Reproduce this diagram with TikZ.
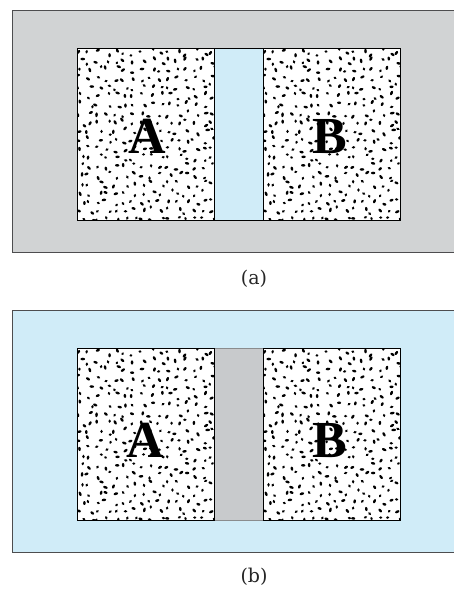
\documentclass[tikz,border=0pt]{standalone}
\usepackage{fontspec}
\setmainfont{Liberation Serif}
\newfontfamily\letterfont{Liberation Serif}
\newfontfamily\lblfont{DejaVu Serif}
\definecolor{panelgray}{HTML}{D1D3D4}
\definecolor{panelblue}{HTML}{D0ECF8}
\definecolor{stripgray}{HTML}{C8CACC}
\definecolor{edgegray}{HTML}{4D4D4F}
\definecolor{stripedge}{HTML}{8A8C8E}
\newcommand{\grainfield}[4]{%
  \begin{scope}
    \clip (#1,#2) rectangle (#3,#4);
    \pgfmathsetseed{1234}
    \foreach \i in {0,...,15}{\foreach \j in {0,...,19}{
      \pgfmathsetmacro{\px}{#1+4+\i*8.8+7*rnd-3.5}
      \pgfmathsetmacro{\py}{#2+4+\j*8.8+7*rnd-3.5}
      \pgfmathsetmacro{\ang}{180*rnd}
      \pgfmathsetmacro{\ra}{1.6+0.8*rnd}
      \fill[black,rotate around={\ang:(\px,\py)}] (\px,\py) ellipse [x radius=\ra pt, y radius=1.3pt];
    }}
  \end{scope}}
\tikzset{
  outerpanel/.style={draw=edgegray, line width=0.8pt},
  grainbox/.style={draw=black, line width=0.7pt},
  letter/.style={anchor=base, font=\letterfont\bfseries\fontsize{52}{52}\selectfont},
  caption/.style={font=\lblfont\fontsize{19}{19}\selectfont, text=black!85},
}
\begin{document}
\begin{tikzpicture}[x=1pt,y=-1pt]
\useasboundingbox (0,0) rectangle (454,589);
\clip (0,0) rectangle (454,589);
% ---------- panel (a)
\draw[outerpanel, fill=panelgray] (12,10) rectangle (470,252);
\fill[white] (77,48) rectangle (214,220);
\fill[white] (263,48) rectangle (400,220);
\fill[panelblue] (214,48) rectangle (263,220);
\grainfield{77}{48}{214}{220}
\grainfield{263}{48}{400}{220}
\draw[grainbox] (77,48) rectangle (214,220);
\draw[grainbox] (263,48) rectangle (400,220);
\draw[grainbox] (214,48) -- (263,48) (214,220) -- (263,220);
\node[letter] (A1) at (147,153) {A};
\node[letter] (B1) at (330,153) {B};
\node[caption] (capa) at (254,279) {(a)};
% ---------- panel (b)
\draw[outerpanel, fill=panelblue] (12,310) rectangle (470,552);
\fill[white] (77,348) rectangle (214,520);
\fill[white] (263,348) rectangle (400,520);
\draw[draw=stripedge, fill=stripgray, line width=0.8pt] (214,348) rectangle (263,520);
\grainfield{77}{348}{214}{520}
\grainfield{263}{348}{400}{520}
\draw[grainbox] (77,348) rectangle (214,520);
\draw[grainbox] (263,348) rectangle (400,520);
\node[letter] (A2) at (145,457) {A};
\node[letter] (B2) at (330,457) {B};
\node[caption] (capb) at (254,577) {(b)};
\end{tikzpicture}
\end{document}
